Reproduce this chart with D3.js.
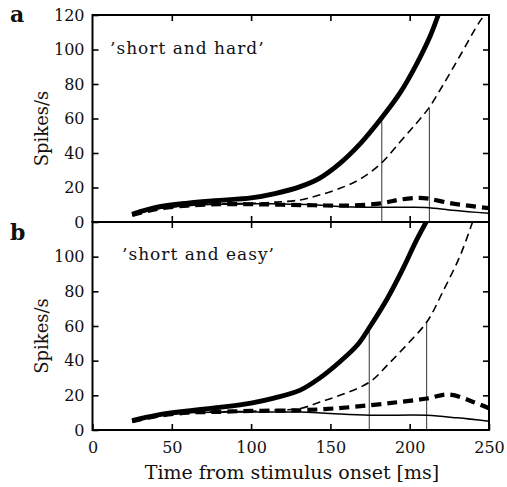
<!DOCTYPE html>
<html>
<head>
<meta charset="utf-8">
<script src="https://cdn.jsdelivr.net/npm/d3@7"></script>
<style>
  body { margin: 0; background: #fff; }
  svg { display: block; }
  text { font-family: "DejaVu Serif", serif; fill: #111; }
</style>
</head>
<body>
<svg id="chart" width="507" height="487"></svg>
<script>
// Panel a: 'short and hard'
const aThickT = [25, 40, 60, 80, 100, 115, 131, 143, 156, 169, 182, 194, 204, 213, 218];
const aThickV = [4.5, 8.5, 11, 12.5, 14, 16.5, 20.5, 25.3, 34, 45.6, 60, 75, 91, 108, 120];
const aThinDashT = [25, 40, 60, 80, 100, 115, 131, 143, 156, 169, 182, 194, 204, 212, 221, 232, 244, 249];
const aThinDashV = [4, 7.5, 9.5, 10.5, 10.8, 11.5, 12.8, 15.6, 19.5, 25, 34, 46.5, 57, 66, 79.4, 96.8, 116, 122];
const aThickDashT = [25, 40, 60, 80, 100, 120, 140, 160, 182, 194, 206, 212, 225, 237, 250];
const aThickDashV = [4, 7.5, 9.5, 10.3, 10.3, 10, 9.7, 9.5, 10.8, 13, 14, 13.5, 11, 9.5, 8];
const aThinT = [25, 40, 60, 80, 100, 120, 140, 160, 182, 200, 212, 225, 237, 250];
const aThinV = [4, 7.5, 9.5, 10.3, 10.5, 10.5, 10, 8.8, 8.5, 8.5, 8.3, 7, 6, 5];
const aMarkT = [182.4, 212.4];
const aMarkV = [60, 66];

// Panel b: 'short and easy'
const bThickT = [25, 40, 60, 80, 100, 115, 131, 143, 156, 167, 175, 186, 196, 204, 211];
const bThickV = [5.5, 8.5, 11, 13, 15.5, 18.5, 23, 29.8, 39.4, 49, 59.7, 76, 93.5, 109, 121];
const bThinDashT = [25, 40, 60, 80, 100, 115, 131, 143, 156, 175, 186, 198, 211, 221, 232, 240];
const bThinDashV = [5, 8, 10, 10.5, 10.8, 11.5, 12.4, 16, 20, 27.8, 37.5, 49, 62.6, 80, 101, 121];
const bThickDashT = [25, 40, 60, 80, 100, 120, 131, 152, 175, 194, 211, 225, 240, 250];
const bThickDashV = [5, 8, 10, 10.5, 11, 11.2, 11.4, 12.4, 14.3, 16.2, 18.2, 20.5, 16.2, 12.5];
const bThinT = [25, 40, 60, 80, 100, 120, 131, 150, 175, 211, 230, 250];
const bThinV = [5, 8, 10, 10.3, 10.4, 10.4, 10.4, 9.5, 8.5, 8.5, 7, 5];
const bMarkT = [174.5, 210.7];
const bMarkV = [60, 62.6];

const xTicks = [0, 50, 100, 150, 200, 250];
const aYTicks = [0, 20, 40, 60, 80, 100, 120];
const bYTicks = [0, 20, 40, 60, 80, 100];

const svg = d3.select('#chart');
const x = d3.scaleLinear().domain([0, 250]).range([92.5, 489]);

const panels = [
  { id: 'a', title: "\u2019short and hard\u2019", top: 15, bottom: 222, yTicks: aYTicks,
    series: [
      [aThinT, aThinV, 1.5, null],
      [aThickDashT, aThickDashV, 4.2, '10,6'],
      [aThinDashT, aThinDashV, 1.6, '8,5'],
      [aThickT, aThickV, 4.8, null]
    ], markT: aMarkT, markV: aMarkV, titleX: 110, titleY: 54, labelY: 22 },
  { id: 'b', title: "\u2019short and easy\u2019", top: 222, bottom: 430, yTicks: bYTicks,
    series: [
      [bThinT, bThinV, 1.5, null],
      [bThickDashT, bThickDashV, 4.2, '10,6'],
      [bThinDashT, bThinDashV, 1.6, '8,5'],
      [bThickT, bThickV, 4.8, null]
    ], markT: bMarkT, markV: bMarkV, titleX: 122, titleY: 260, labelY: 240 }
];

panels.forEach((p, i) => {
  const y = d3.scaleLinear().domain([0, 120]).range([p.bottom, p.top]);
  const g = svg.append('g');

  g.append('clipPath').attr('id', 'clip-' + p.id)
    .append('rect')
    .attr('x', x(0)).attr('y', p.top)
    .attr('width', x(250) - x(0)).attr('height', p.bottom - p.top);

  const line = d3.line()
    .x(d => x(d[0]))
    .y(d => y(d[1]))
    .curve(d3.curveCatmullRom.alpha(0.5));

  const plot = g.append('g').attr('clip-path', `url(#clip-${p.id})`);

  // vertical markers
  p.markT.forEach((t, k) => {
    plot.append('line')
      .attr('x1', x(t)).attr('x2', x(t))
      .attr('y1', y(p.markV[k])).attr('y2', y(0))
      .attr('stroke', '#333')
      .attr('stroke-width', 1);
  });

  p.series.forEach(([ts, vs, w, dash]) => {
    plot.append('path')
      .datum(ts.map((t, k) => [t, vs[k]]))
      .attr('d', line)
      .attr('fill', 'none')
      .attr('stroke', '#000')
      .attr('stroke-width', w)
      .attr('stroke-dasharray', dash)
      .attr('stroke-linejoin', 'round');
  });

  // axes with inward ticks
  const left = g.append('g')
    .attr('transform', `translate(${x(0)},0)`)
    .call(d3.axisLeft(y).tickValues(p.yTicks).tickSizeInner(-6).tickSizeOuter(0).tickPadding(8));
  left.selectAll('text').style('font-size', '16px').style('font-family', '"DejaVu Serif", serif');

  g.append('g')
    .attr('transform', `translate(${x(250)},0)`)
    .call(d3.axisRight(y).tickValues([20, 40, 60, 80, 100]).tickSizeInner(-6).tickSizeOuter(0).tickFormat(''));

  g.append('g')
    .attr('transform', `translate(0,${p.top})`)
    .call(d3.axisTop(x).tickValues([50, 100, 150, 200]).tickSizeInner(-6).tickSizeOuter(0).tickFormat(''));

  const bottom = g.append('g')
    .attr('transform', `translate(0,${p.bottom})`)
    .call(d3.axisBottom(x).tickValues(i === 1 ? xTicks : [50, 100, 150, 200])
      .tickSizeInner(-6).tickSizeOuter(0).tickPadding(12)
      .tickFormat(i === 1 ? d3.format('d') : ''));
  bottom.selectAll('text').style('font-size', '16px').style('font-family', '"DejaVu Serif", serif');

  g.selectAll('.domain').remove();
  g.selectAll('.tick line').attr('stroke', '#000').attr('stroke-width', 1.6);

  // frame
  g.append('rect')
    .attr('x', x(0)).attr('y', p.top)
    .attr('width', x(250) - x(0)).attr('height', p.bottom - p.top)
    .attr('fill', 'none').attr('stroke', '#000').attr('stroke-width', 2);

  g.append('text')
    .attr('x', p.titleX).attr('y', p.titleY)
    .style('font-size', '17px')
    .style('letter-spacing', '1px')
    .text(p.title);

  g.append('text')
    .attr('transform', `translate(48,${(p.top + p.bottom) / 2 + 10}) rotate(-90)`)
    .attr('text-anchor', 'middle')
    .style('font-size', '18px')
    .text('Spikes/s');

  g.append('text')
    .attr('x', 10).attr('y', p.labelY)
    .style('font-size', '22px')
    .style('font-weight', 'bold')
    .text(p.id);
});

svg.append('text')
  .attr('x', 292).attr('y', 479)
  .attr('text-anchor', 'middle')
  .style('font-size', '19px')
  .text('Time from stimulus onset [ms]');
</script>
</body>
</html>
